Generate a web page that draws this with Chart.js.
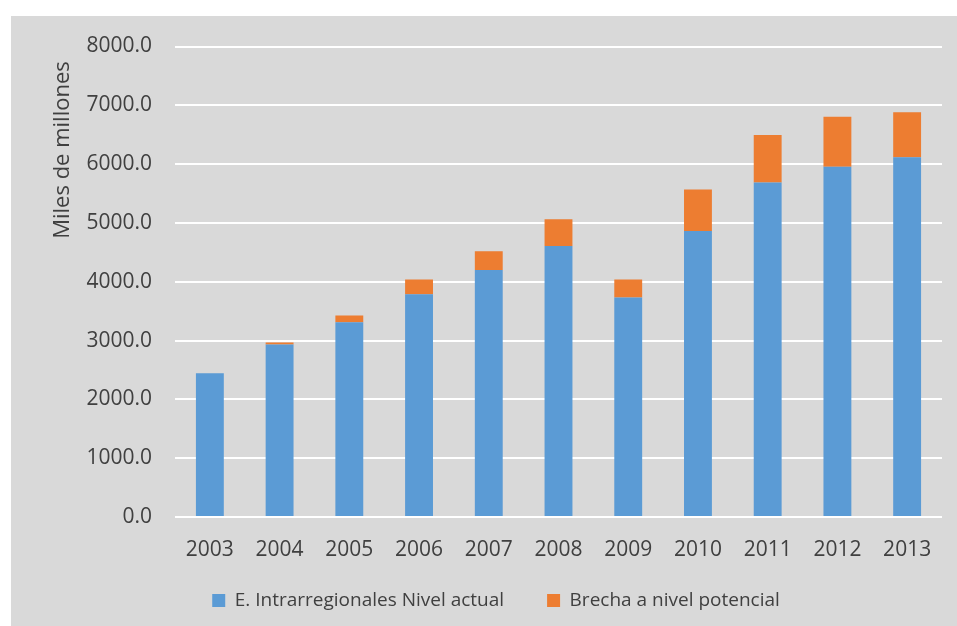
<!DOCTYPE html>
<html>
<head>
<meta charset="utf-8">
<script src="https://cdn.jsdelivr.net/npm/chart.js@4"></script>
<style>
  body { margin: 0; background: #ffffff; }
  #wrap { position: relative; width: 957px; height: 626px; background: #ffffff; }
  #myChart { position: absolute; left: 11px; top: 16px; background: #d9d9d9; }
</style>
</head>
<body>
<div id="wrap">
  <canvas id="myChart" width="946" height="610"></canvas>
</div>
<script>
const years = ["2003", "2004", "2005", "2006", "2007", "2008", "2009", "2010", "2011", "2012", "2013"];
const nivelActual = [2443, 2932, 3312, 3789, 4198, 4607, 3733, 4863, 5688, 5954, 6119];
const brecha = [0, 35, 114, 251, 319, 455, 307, 705, 806, 852, 761];
const yTicks = [0, 1000, 2000, 3000, 4000, 5000, 6000, 7000, 8000];

const textColor = "#404040";
const fontFamily = "'Open Sans', 'DejaVu Sans', sans-serif";

// axis title sits high on the left, like the original
const yTitle = {
      id: "yTitle",
      afterDraw(chart) {
            const c = chart.ctx;
            c.save();
            c.translate(52, 134);
            c.rotate(-Math.PI / 2);
            c.font = "22px " + fontFamily;
            c.fillStyle = textColor;
            c.textAlign = "center";
            c.textBaseline = "middle";
            c.fillText("Miles de millones", 0, 0);
            c.restore();
      },
};

const ctx = document.getElementById("myChart").getContext("2d");

const data = {
      labels: years,
      datasets: [
            {
                  label: "E. Intrarregionales Nivel actual",
                  data: nivelActual,
                  backgroundColor: "#5b9bd5",
                  barPercentage: 0.4,
                  categoryPercentage: 1,
            },
            {
                  label: "Brecha a nivel potencial",
                  data: brecha,
                  backgroundColor: "#ed7d31",
                  barPercentage: 0.4,
                  categoryPercentage: 1,
            },
      ],
};

const config = {
      type: "bar",
      data: data,
      plugins: [yTitle],
      options: {
            responsive: false,
            animation: false,
            layout: { padding: { top: 30.5, right: 15, bottom: 6, left: 39 } },
            plugins: {
                  tooltip: { enabled: false },
                  legend: {
                        position: "bottom",
                        labels: {
                              boxWidth: 13,
                              boxHeight: 13,
                              padding: 24,
                              color: textColor,
                              font: { family: fontFamily, size: 19 },
                              generateLabels: (chart) => {
                                    const items = Chart.defaults.plugins.legend.labels.generateLabels(chart);
                                    // a bit more room between the two entries
                                    items[0].text += "\u2003";
                                    return items;
                              },
                        },
                  },
            },
            scales: {
                  x: {
                        stacked: true,
                        grid: { display: false },
                        border: { display: false },
                        ticks: {
                              color: textColor,
                              padding: 12,
                              font: { family: fontFamily, size: 21 },
                        },
                        afterFit: (s) => { s.height = 50; },
                  },
                  y: {
                        stacked: true,
                        min: 0,
                        max: 8000,
                        afterBuildTicks: (s) => { s.ticks = yTicks.map((v) => ({ value: v })); },
                        afterFit: (s) => {
                              s.width = 125;
                              s.paddingTop = 0;
                              s.paddingBottom = 0;
                        },
                        grid: { color: "#ffffff", lineWidth: 2, drawTicks: false },
                        border: { display: false },
                        ticks: {
                              color: textColor,
                              padding: 23,
                              font: { family: fontFamily, size: 21 },
                              callback: (value) => value.toFixed(1),
                        },
                  },
            },
      },
};

const myChart = new Chart(ctx, config);
</script>
</body>
</html>
